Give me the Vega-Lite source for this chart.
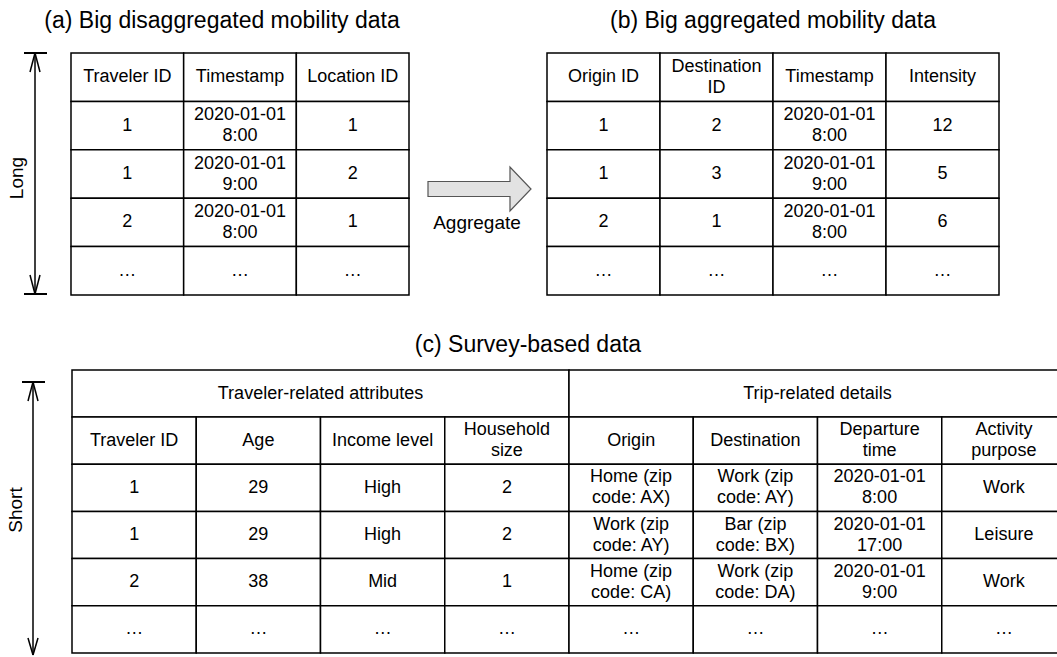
{
  "$schema": "https://vega.github.io/schema/vega-lite/v6.json",
  "width": 1057,
  "height": 657,
  "padding": 0,
  "autosize": {"type": "none"},
  "background": "white",
  "config": {"view": {"stroke": null}, "font": "Liberation Sans"},
  "datasets": {
    "tableA": [
      {"row": 0, "col": 0, "label": "Traveler ID"},
      {"row": 0, "col": 1, "label": "Timestamp"},
      {"row": 0, "col": 2, "label": "Location ID"},
      {"row": 1, "col": 0, "label": "1"},
      {"row": 1, "col": 1, "label": ["2020-01-01", "8:00"]},
      {"row": 1, "col": 2, "label": "1"},
      {"row": 2, "col": 0, "label": "1"},
      {"row": 2, "col": 1, "label": ["2020-01-01", "9:00"]},
      {"row": 2, "col": 2, "label": "2"},
      {"row": 3, "col": 0, "label": "2"},
      {"row": 3, "col": 1, "label": ["2020-01-01", "8:00"]},
      {"row": 3, "col": 2, "label": "1"},
      {"row": 4, "col": 0, "label": "…"},
      {"row": 4, "col": 1, "label": "…"},
      {"row": 4, "col": 2, "label": "…"}
    ],
    "tableB": [
      {"row": 0, "col": 0, "label": "Origin ID"},
      {"row": 0, "col": 1, "label": ["Destination", "ID"]},
      {"row": 0, "col": 2, "label": "Timestamp"},
      {"row": 0, "col": 3, "label": "Intensity"},
      {"row": 1, "col": 0, "label": "1"},
      {"row": 1, "col": 1, "label": "2"},
      {"row": 1, "col": 2, "label": ["2020-01-01", "8:00"]},
      {"row": 1, "col": 3, "label": "12"},
      {"row": 2, "col": 0, "label": "1"},
      {"row": 2, "col": 1, "label": "3"},
      {"row": 2, "col": 2, "label": ["2020-01-01", "9:00"]},
      {"row": 2, "col": 3, "label": "5"},
      {"row": 3, "col": 0, "label": "2"},
      {"row": 3, "col": 1, "label": "1"},
      {"row": 3, "col": 2, "label": ["2020-01-01", "8:00"]},
      {"row": 3, "col": 3, "label": "6"},
      {"row": 4, "col": 0, "label": "…"},
      {"row": 4, "col": 1, "label": "…"},
      {"row": 4, "col": 2, "label": "…"},
      {"row": 4, "col": 3, "label": "…"}
    ],
    "groupsC": [
      {"level": "group", "group": "Traveler-related attributes"},
      {"level": "group", "group": "Trip-related details"}
    ],
    "tableC": [
      {"row": 0, "col": 0, "label": "Traveler ID"},
      {"row": 0, "col": 1, "label": "Age"},
      {"row": 0, "col": 2, "label": "Income level"},
      {"row": 0, "col": 3, "label": ["Household", "size"]},
      {"row": 0, "col": 4, "label": "Origin"},
      {"row": 0, "col": 5, "label": "Destination"},
      {"row": 0, "col": 6, "label": ["Departure", "time"]},
      {"row": 0, "col": 7, "label": ["Activity", "purpose"]},
      {"row": 1, "col": 0, "label": "1"},
      {"row": 1, "col": 1, "label": "29"},
      {"row": 1, "col": 2, "label": "High"},
      {"row": 1, "col": 3, "label": "2"},
      {"row": 1, "col": 4, "label": ["Home (zip", "code: AX)"]},
      {"row": 1, "col": 5, "label": ["Work (zip", "code: AY)"]},
      {"row": 1, "col": 6, "label": ["2020-01-01", "8:00"]},
      {"row": 1, "col": 7, "label": "Work"},
      {"row": 2, "col": 0, "label": "1"},
      {"row": 2, "col": 1, "label": "29"},
      {"row": 2, "col": 2, "label": "High"},
      {"row": 2, "col": 3, "label": "2"},
      {"row": 2, "col": 4, "label": ["Work (zip", "code: AY)"]},
      {"row": 2, "col": 5, "label": ["Bar (zip", "code: BX)"]},
      {"row": 2, "col": 6, "label": ["2020-01-01", "17:00"]},
      {"row": 2, "col": 7, "label": "Leisure"},
      {"row": 3, "col": 0, "label": "2"},
      {"row": 3, "col": 1, "label": "38"},
      {"row": 3, "col": 2, "label": "Mid"},
      {"row": 3, "col": 3, "label": "1"},
      {"row": 3, "col": 4, "label": ["Home (zip", "code: CA)"]},
      {"row": 3, "col": 5, "label": ["Work (zip", "code: DA)"]},
      {"row": 3, "col": 6, "label": ["2020-01-01", "9:00"]},
      {"row": 3, "col": 7, "label": "Work"},
      {"row": 4, "col": 0, "label": "…"},
      {"row": 4, "col": 1, "label": "…"},
      {"row": 4, "col": 2, "label": "…"},
      {"row": 4, "col": 3, "label": "…"},
      {"row": 4, "col": 4, "label": "…"},
      {"row": 4, "col": 5, "label": "…"},
      {"row": 4, "col": 6, "label": "…"},
      {"row": 4, "col": 7, "label": "…"}
    ]
  },
  "resolve": {"scale": {"x": "independent", "y": "independent"}},
  "layer": [
    {
      "data": {"name": "tableA"},
      "encoding": {
        "x": {"field": "col", "type": "ordinal", "axis": null, "scale": {"type": "band", "range": [71, 409], "paddingInner": 0, "paddingOuter": 0}},
        "y": {"field": "row", "type": "ordinal", "axis": null, "scale": {"type": "band", "range": [53, 295], "paddingInner": 0, "paddingOuter": 0}}
      },
      "layer": [
        {"mark": {"type": "rect", "fill": "#ffffff", "stroke": "#000000", "strokeWidth": 1.5}},
        {"transform": [{"filter": "!isArray(datum.label)"}], "mark": {"type": "text", "fontSize": 18, "baseline": "middle", "align": "center", "fill": "#000000"}, "encoding": {"text": {"field": "label"}}},
        {"transform": [{"filter": "isArray(datum.label)"}], "mark": {"type": "text", "fontSize": 18, "lineHeight": 21, "dy": -10.5, "baseline": "middle", "align": "center", "fill": "#000000"}, "encoding": {"text": {"field": "label"}}}
      ]
    },
    {
      "data": {"name": "tableB"},
      "encoding": {
        "x": {"field": "col", "type": "ordinal", "axis": null, "scale": {"type": "band", "range": [547, 999], "paddingInner": 0, "paddingOuter": 0}},
        "y": {"field": "row", "type": "ordinal", "axis": null, "scale": {"type": "band", "range": [53, 295], "paddingInner": 0, "paddingOuter": 0}}
      },
      "layer": [
        {"mark": {"type": "rect", "fill": "#ffffff", "stroke": "#000000", "strokeWidth": 1.5}},
        {"transform": [{"filter": "!isArray(datum.label)"}], "mark": {"type": "text", "fontSize": 18, "baseline": "middle", "align": "center", "fill": "#000000"}, "encoding": {"text": {"field": "label"}}},
        {"transform": [{"filter": "isArray(datum.label)"}], "mark": {"type": "text", "fontSize": 18, "lineHeight": 21, "dy": -10.5, "baseline": "middle", "align": "center", "fill": "#000000"}, "encoding": {"text": {"field": "label"}}}
      ]
    },
    {
      "data": {"name": "groupsC"},
      "encoding": {
        "x": {"field": "group", "type": "nominal", "sort": null, "axis": null, "scale": {"type": "band", "range": [72, 1066], "paddingInner": 0, "paddingOuter": 0}},
        "y": {"field": "level", "type": "nominal", "axis": null, "scale": {"type": "band", "range": [370, 417], "paddingInner": 0, "paddingOuter": 0}}
      },
      "layer": [
        {"mark": {"type": "rect", "fill": "#ffffff", "stroke": "#000000", "strokeWidth": 1.5}},
        {"mark": {"type": "text", "fontSize": 18, "baseline": "middle", "align": "center", "fill": "#000000"}, "encoding": {"text": {"field": "group"}}}
      ]
    },
    {
      "data": {"name": "tableC"},
      "encoding": {
        "x": {"field": "col", "type": "ordinal", "axis": null, "scale": {"type": "band", "range": [72, 1066], "paddingInner": 0, "paddingOuter": 0}},
        "y": {"field": "row", "type": "ordinal", "axis": null, "scale": {"type": "band", "range": [417, 653], "paddingInner": 0, "paddingOuter": 0}}
      },
      "layer": [
        {"mark": {"type": "rect", "fill": "#ffffff", "stroke": "#000000", "strokeWidth": 1.5}},
        {"transform": [{"filter": "!isArray(datum.label)"}], "mark": {"type": "text", "fontSize": 18, "baseline": "middle", "align": "center", "fill": "#000000"}, "encoding": {"text": {"field": "label"}}},
        {"transform": [{"filter": "isArray(datum.label)"}], "mark": {"type": "text", "fontSize": 18, "lineHeight": 21, "dy": -10.5, "baseline": "middle", "align": "center", "fill": "#000000"}, "encoding": {"text": {"field": "label"}}}
      ]
    },
    {
      "data": {"values": [{}]},
      "layer": [
        {"mark": {"type": "text", "fontSize": 23, "baseline": "alphabetic", "align": "center", "fill": "#000000"},
         "encoding": {"x": {"datum": 222, "type": "quantitative", "axis": null, "scale": {"domain": [0, 1057], "range": [0, 1057], "nice": false, "zero": false}},
                      "y": {"datum": 28, "type": "quantitative", "axis": null, "scale": {"domain": [0, 657], "range": [0, 657], "nice": false, "zero": false}},
                      "text": {"value": "(a) Big disaggregated mobility data"}}},
        {"mark": {"type": "text", "fontSize": 23, "baseline": "alphabetic", "align": "center", "fill": "#000000"},
         "encoding": {"x": {"datum": 773, "type": "quantitative"}, "y": {"datum": 28, "type": "quantitative"},
                      "text": {"value": "(b) Big aggregated mobility data"}}},
        {"mark": {"type": "text", "fontSize": 23, "baseline": "alphabetic", "align": "center", "fill": "#000000"},
         "encoding": {"x": {"datum": 528, "type": "quantitative"}, "y": {"datum": 352, "type": "quantitative"},
                      "text": {"value": "(c) Survey-based data"}}},
        {"mark": {"type": "text", "fontSize": 19, "baseline": "alphabetic", "align": "center", "fill": "#000000"},
         "encoding": {"x": {"datum": 477, "type": "quantitative"}, "y": {"datum": 229, "type": "quantitative"},
                      "text": {"value": "Aggregate"}}},
        {"mark": {"type": "text", "fontSize": 19, "baseline": "middle", "align": "center", "angle": 270, "fill": "#000000"},
         "encoding": {"x": {"datum": 17, "type": "quantitative"}, "y": {"datum": 178, "type": "quantitative"},
                      "text": {"value": "Long"}}},
        {"mark": {"type": "text", "fontSize": 19, "baseline": "middle", "align": "center", "angle": 270, "fill": "#000000"},
         "encoding": {"x": {"datum": 16, "type": "quantitative"}, "y": {"datum": 510, "type": "quantitative"},
                      "text": {"value": "Short"}}},
        {"mark": {"type": "point", "shape": "M-1,-0.146L0.592,-0.146L0.592,-0.427L1,0L0.592,0.427L0.592,0.146L-1,0.146Z", "size": 10609, "filled": true, "fill": "#e2e2e2", "stroke": "#555555", "strokeWidth": 1.2, "opacity": 1},
         "encoding": {"x": {"datum": 479.5, "type": "quantitative"}, "y": {"datum": 189, "type": "quantitative"}}},
        {"mark": {"type": "rule", "stroke": "#000000", "strokeWidth": 1.5},
         "encoding": {"x": {"datum": 35, "type": "quantitative"}, "y": {"datum": 53, "type": "quantitative"}, "y2": {"datum": 294}}},
        {"mark": {"type": "rule", "stroke": "#000000", "strokeWidth": 2},
         "encoding": {"x": {"datum": 24, "type": "quantitative"}, "x2": {"datum": 47}, "y": {"datum": 53, "type": "quantitative"}}},
        {"mark": {"type": "rule", "stroke": "#000000", "strokeWidth": 2},
         "encoding": {"x": {"datum": 24, "type": "quantitative"}, "x2": {"datum": 47}, "y": {"datum": 294, "type": "quantitative"}}},
        {"mark": {"type": "rule", "stroke": "#000000", "strokeWidth": 1.5},
         "encoding": {"x": {"datum": 35, "type": "quantitative"}, "x2": {"datum": 30}, "y": {"datum": 53, "type": "quantitative"}, "y2": {"datum": 72}}},
        {"mark": {"type": "rule", "stroke": "#000000", "strokeWidth": 1.5},
         "encoding": {"x": {"datum": 35, "type": "quantitative"}, "x2": {"datum": 40}, "y": {"datum": 53, "type": "quantitative"}, "y2": {"datum": 72}}},
        {"mark": {"type": "rule", "stroke": "#000000", "strokeWidth": 1.5},
         "encoding": {"x": {"datum": 35, "type": "quantitative"}, "x2": {"datum": 30}, "y": {"datum": 294, "type": "quantitative"}, "y2": {"datum": 275}}},
        {"mark": {"type": "rule", "stroke": "#000000", "strokeWidth": 1.5},
         "encoding": {"x": {"datum": 35, "type": "quantitative"}, "x2": {"datum": 40}, "y": {"datum": 294, "type": "quantitative"}, "y2": {"datum": 275}}},
        {"mark": {"type": "rule", "stroke": "#000000", "strokeWidth": 1.5},
         "encoding": {"x": {"datum": 33, "type": "quantitative"}, "y": {"datum": 382, "type": "quantitative"}, "y2": {"datum": 655}}},
        {"mark": {"type": "rule", "stroke": "#000000", "strokeWidth": 2},
         "encoding": {"x": {"datum": 22, "type": "quantitative"}, "x2": {"datum": 45}, "y": {"datum": 382, "type": "quantitative"}}},
        {"mark": {"type": "rule", "stroke": "#000000", "strokeWidth": 1.5},
         "encoding": {"x": {"datum": 33, "type": "quantitative"}, "x2": {"datum": 28}, "y": {"datum": 382, "type": "quantitative"}, "y2": {"datum": 401}}},
        {"mark": {"type": "rule", "stroke": "#000000", "strokeWidth": 1.5},
         "encoding": {"x": {"datum": 33, "type": "quantitative"}, "x2": {"datum": 38}, "y": {"datum": 382, "type": "quantitative"}, "y2": {"datum": 401}}},
        {"mark": {"type": "rule", "stroke": "#000000", "strokeWidth": 1.5},
         "encoding": {"x": {"datum": 33, "type": "quantitative"}, "x2": {"datum": 28}, "y": {"datum": 655, "type": "quantitative"}, "y2": {"datum": 638}}},
        {"mark": {"type": "rule", "stroke": "#000000", "strokeWidth": 1.5},
         "encoding": {"x": {"datum": 33, "type": "quantitative"}, "x2": {"datum": 38}, "y": {"datum": 655, "type": "quantitative"}, "y2": {"datum": 638}}}
      ]
    }
  ]
}
